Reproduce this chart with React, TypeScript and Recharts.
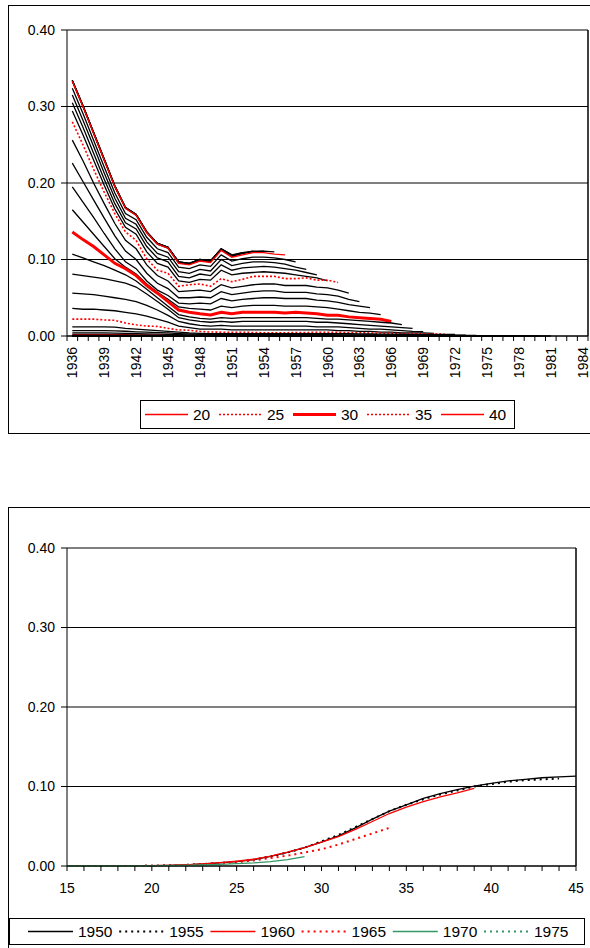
import { LineChart, Line, XAxis, YAxis, CartesianGrid, ReferenceLine } from "recharts"

const FONT = "'Liberation Sans', Arial, sans-serif"

// ---- top chart: one line per age, x = year ----
const years = [
  1936, 1937, 1938, 1939, 1940, 1941, 1942, 1943, 1944, 1945,
  1946, 1947, 1948, 1949, 1950, 1951, 1952, 1953, 1954, 1955,
  1956, 1957, 1958, 1959, 1960, 1961, 1962, 1963, 1964, 1965,
  1966, 1967, 1968, 1969, 1970, 1971, 1972, 1973, 1974, 1975,
  1976, 1977, 1978, 1979, 1980, 1981, 1982, 1983, 1984,
]

// values start at 1936, each series stops at its last observed year
const a45 = [.334, .301, .266, .231, .196, .168, .159, .136, .121, .116, .097, .095, .100, .098, .114, .106]
const a44 = [.334, .301, .266, .231, .196, .168, .159, .136, .121, .116, .097, .095, .100, .098, .114, .106, .109]
const a43 = [.334, .301, .266, .231, .196, .168, .159, .136, .121, .116, .097, .095, .100, .098, .114, .105, .109, .111]
const a42 = [.334, .301, .266, .231, .196, .168, .159, .136, .121, .116, .096, .094, .099, .097, .113, .105, .108, .111, .111]
const a41 = [.333, .300, .265, .230, .195, .167, .158, .135, .120, .115, .096, .094, .099, .097, .113, .104, .108, .110, .111, .110]
const a40 = [.333, .300, .265, .230, .195, .167, .158, .135, .120, .115, .095, .093, .098, .096, .112, .103, .106, .109, .109, .107, .106]
const a39 = [.324, .291, .256, .221, .187, .160, .152, .129, .114, .109, .090, .088, .093, .091, .106, .098, .101, .103, .103, .102, .100, .097]
const a38 = [.315, .282, .248, .213, .180, .154, .146, .123, .108, .103, .084, .082, .087, .085, .100, .092, .095, .097, .097, .096, .094, .090, .087]
const a37 = [.305, .273, .239, .205, .173, .148, .140, .117, .102, .097, .078, .076, .081, .079, .093, .086, .089, .090, .091, .090, .088, .086, .083, .080]
const a36 = [.294, .263, .230, .197, .166, .142, .133, .110, .095, .090, .072, .070, .074, .073, .086, .080, .082, .083, .084, .083, .082, .080, .078, .076, .072]
const a35 = [.280, .250, .218, .188, .160, .136, .125, .101, .086, .082, .065, .067, .068, .065, .075, .071, .074, .078, .078, .078, .075, .075, .076, .073, .073, .070]
const a34 = [.256, .229, .200, .173, .147, .125, .114, .093, .079, .072, .058, .059, .060, .058, .067, .063, .065, .067, .068, .068, .066, .066, .066, .064, .063, .060, .056]
const a33 = [.226, .202, .178, .154, .131, .111, .100, .082, .069, .062, .050, .050, .051, .050, .058, .054, .056, .058, .059, .059, .057, .057, .057, .055, .054, .052, .048, .045]
const a32 = [.195, .175, .155, .134, .114, .097, .088, .072, .060, .053, .043, .042, .043, .042, .049, .046, .048, .049, .050, .050, .049, .049, .049, .047, .046, .044, .041, .039, .037]
const a31 = [.165, .149, .133, .117, .101, .090, .081, .068, .057, .048, .038, .036, .035, .034, .039, .037, .039, .040, .040, .040, .039, .039, .039, .038, .037, .035, .033, .031, .030, .028]
const a30 = [.136, .126, .117, .106, .095, .088, .079, .066, .056, .045, .034, .031, .029, .0275, .031, .029, .031, .031, .031, .031, .030, .031, .030, .029, .027, .027, .025, .024, .023, .022, .019]
const a29 = [.107, .102, .097, .092, .086, .080, .072, .061, .050, .039, .028, .025, .023, .022, .024, .023, .024, .024, .024, .024, .024, .024, .024, .023, .022, .022, .021, .020, .019, .018, .017, .015]
const a28 = [.081, .079, .077, .075, .072, .069, .064, .055, .045, .035, .024, .021, .019, .018, .019, .018, .019, .019, .019, .019, .019, .019, .019, .018, .018, .017, .016, .015, .014, .013, .012, .011, .010]
const a27 = [.056, .055, .054, .052, .050, .048, .045, .040, .034, .027, .019, .016, .014, .013, .014, .013, .013, .013, .013, .013, .013, .013, .013, .012, .012, .012, .011, .010, .009, .009, .008, .007, .006, .0056]
const a26 = [.036, .035, .035, .034, .033, .031, .029, .026, .022, .018, .013, .011, .009, .009, .009, .008, .008, .008, .008, .008, .008, .008, .008, .008, .008, .007, .007, .006, .006, .005, .005, .004, .004, .004, .0035]
const a25 = [.022, .022, .022, .021, .0205, .017, .0146, .013, .0125, .010, .008, .0075, .006, .0052, .005, .005, .005, .0045, .0043, .0043, .0043, .0045, .0045, .005, .005, .0048, .0045, .0042, .004, .0038, .0035, .0032, .003, .0029, .0027, .0026]
const a24 = [.012, .012, .012, .012, .0115, .010, .009, .008, .007, .006, .005, .004, .0035, .003, .003, .003, .003, .003, .003, .003, .003, .003, .003, .003, .003, .003, .003, .0028, .0026, .0025, .0024, .0023, .0022, .0021, .002, .002, .002]
const a23 = [.007, .007, .007, .007, .0068, .0062, .0055, .005, .0045, .004, .0032, .0027, .0023, .002, .002, .0019, .0018, .0018, .0017, .0017, .0017, .0017, .0017, .0017, .0017, .0016, .0016, .0016, .0015, .0015, .0015, .0014, .0014, .0013, .0013, .0013, .0012, .0012]
const a22 = [.004, .004, .004, .004, .0038, .0035, .0031, .0028, .0025, .0022, .0018, .0015, .0013, .0012, .0012, .0011, .0011, .0011, .0011, .001, .001, .001, .001, .001, .001, .001, .001, .001, .0009, .0009, .0009, .0009, .0009, .0008, .0008, .0008, .0008, .0008, .0008]
const a21 = [.002, .002, .002, .002, .0019, .0018, .0016, .0014, .0012, .0011, .0009, .0008, .0007, .0006, .0006, .0006, .0006, .0006, .0006, .0006, .0006, .0006, .0006, .0006, .0005, .0005, .0005, .0005, .0005, .0005, .0005, .0005, .0005, .0005, .0004, .0004, .0004, .0004, .0004, .0004]
const a20 = [.001, .001, .001, .001, .001, .0009, .0008, .0007, .0006, .0005, .0004, .0004, .0003, .0003, .0003, .0003, .0003, .0003, .0003, .0003, .0003, .0003, .0003, .0003, .0003, .0003, .0003, .0003, .0002, .0002, .0002, .0002, .0002, .0002, .0002, .0002, .0002, .0002, .0002, .0002, .0002]
const a19 = [.0005, .0005, .0005, .0005, .0005, .0004, .0004, .0004, .0004, .0004, .0003, .0003, .0003, .0003, .0003, .0002, .0002, .0002, .0002, .0002, .0002, .0002, .0002, .0002, .0002, .0001, .0001, .0001, .0001, .0001, .0001, .0001, .0001, .0001, .0001, .0001, .0001, .0001, .0001, .0001, .0001, .0001]
const a18 = [.0003, .0003, .0003, .0003, .0003, .0003, .0002, .0002, .0002, .0002, .0002, .0002, .0002, .0002, .0001, .0001, .0001, .0001, .0001, .0001, .0001, .0001, .0001, .0001, .0001, .0001, .0001, .0001, .0001, .0001, .0001, .0001, .0001, .0001, .0001, .0001, .0001, .0001, .0001, .0001, .0001, .0001, .0001]
const a17 = [.0001, .0001, .0001, .0001, .0001, .0001, .0001, .0001, .0001, .0001, .0001, .0001, .0001, .0001, 0, 0, 0, 0, 0, 0, 0, 0, 0, 0, 0, 0, 0, 0, 0, 0, 0, 0, 0, 0, 0, 0, 0, 0, 0, 0, 0, 0, 0, 0]
const a16 = [0, 0, 0, 0, 0, 0, 0, 0, 0, 0, 0, 0, 0, 0, 0, 0, 0, 0, 0, 0, 0, 0, 0, 0, 0, 0, 0, 0, 0, 0, 0, 0, 0, 0, 0, 0, 0, 0, 0, 0, 0, 0, 0, 0, 0]
const a15 = [0, 0, 0, 0, 0, 0, 0, 0, 0, 0, 0, 0, 0, 0, 0, 0, 0, 0, 0, 0, 0, 0, 0, 0, 0, 0, 0, 0, 0, 0, 0, 0, 0, 0, 0, 0, 0, 0, 0, 0, 0, 0, 0, 0, 0, 0]

// drawing order as in the workbook: oldest age first
const ageSeries: [number, number[]][] = [
  [45, a45], [44, a44], [43, a43], [42, a42], [41, a41], [40, a40], [39, a39], [38, a38],
  [37, a37], [36, a36], [35, a35], [34, a34], [33, a33], [32, a32], [31, a31], [30, a30],
  [29, a29], [28, a28], [27, a27], [26, a26], [25, a25], [24, a24], [23, a23], [22, a22],
  [21, a21], [20, a20], [19, a19], [18, a18], [17, a17], [16, a16], [15, a15],
]
const legendAges = [20, 25, 30, 35, 40]

// ---- bottom chart: one line per cohort, x = age ----
const ages = [15, 16, 17, 18, 19, 20, 21, 22, 23, 24, 25, 26, 27, 28, 29, 30, 31, 32, 33, 34, 35, 36, 37, 38, 39, 40, 41, 42, 43, 44, 45]
const c1950 = [0, 0, 0, 0, 0, .0003, .0007, .0015, .0025, .004, .0055, .008, .012, .017, .023, .030, .038, .048, .059, .069, .077, .085, .091, .096, .1005, .104, .107, .109, .111, .112, .113]
const c1955 = [0, 0, 0, 0, 0, .0003, .0007, .0014, .0024, .0038, .0055, .008, .012, .017, .023, .031, .039, .049, .059, .069, .077, .084, .090, .095, .100, .103, .106, .108, .109, .110]
const c1960 = [0, 0, 0, 0, 0, .0003, .0007, .0015, .0026, .0042, .006, .0085, .0125, .0175, .023, .030, .037, .046, .056, .066, .074, .081, .087, .092, .0977]
const c1965 = [0, 0, 0, 0, 0, .0003, .0006, .001, .002, .003, .005, .007, .010, .013, .017, .021, .027, .034, .041, .048]
const c1970 = [0, 0, 0, 0, 0, .0002, .0004, .0008, .0013, .002, .003, .004, .0055, .008, .0117]
const c1975 = [0, 0, 0, 0, 0, .0001, .0002, .0004, .0006, .0009]

const cohorts: [string, number[]][] = [
  ["1950", c1950], ["1955", c1955], ["1960", c1960], ["1965", c1965], ["1970", c1970], ["1975", c1975],
]

const yTicks = [0, 0.1, 0.2, 0.3, 0.4]

const topData = years.map((year, i) => {
  const row: Record<string, number | undefined> = { year }
  ageSeries.forEach(([age, vals]) => { row[`a${age}`] = vals[i] })
  return row
})

const bottomData = ages.map((age, i) => {
  const row: Record<string, number | undefined> = { age }
  cohorts.forEach(([name, vals]) => { row[`c${name}`] = vals[i] })
  return row
})

type LineStyle = { stroke: string; width: number; dash?: string }

const ageStyle = (age: number): LineStyle => {
  if (age === 30) return { stroke: "#ff0000", width: 3 }
  if (age === 20 || age === 40) return { stroke: "#ff0000", width: 1.4 }
  if (age === 25 || age === 35) return { stroke: "#ff0000", width: 1.6, dash: "2 2" }
  return { stroke: "#000", width: 1.3 }
}

const cohortStyle: Record<string, LineStyle> = {
  "1950": { stroke: "#000", width: 1.3 },
  "1955": { stroke: "#000", width: 2, dash: "2 4" },
  "1960": { stroke: "#ff0000", width: 1.3 },
  "1965": { stroke: "#ff0000", width: 2, dash: "2 4" },
  "1970": { stroke: "#339966", width: 1.3 },
  "1975": { stroke: "#339966", width: 2, dash: "2 4" },
}

// layout
const TOP_LEFT = 67
const TOP_RIGHT = 588
const TOP_BOTTOM = 336
const HALF_STEP = (TOP_RIGHT - TOP_LEFT) / years.length / 2
const BOT_BOTTOM = 366

const YearTick = (props: any) => {
  const { x, payload, index } = props
  const yr = payload.value as number
  return (
    <g>
      <line x1={x - HALF_STEP} x2={x - HALF_STEP} y1={TOP_BOTTOM} y2={TOP_BOTTOM + 5} stroke="#000" />
      {index === years.length - 1 && (
        <line x1={x + HALF_STEP} x2={x + HALF_STEP} y1={TOP_BOTTOM} y2={TOP_BOTTOM + 5} stroke="#000" />
      )}
      {(yr - 1936) % 3 === 0 && (
        <text
          transform={`translate(${x + 5},${TOP_BOTTOM + 11}) rotate(-90)`}
          textAnchor="end"
          fontSize={14}
          fontFamily={FONT}
          fill="#000"
        >
          {yr}
        </text>
      )}
    </g>
  )
}

const AgeTick = (props: any) => {
  const { x, payload } = props
  const a = payload.value as number
  return (
    <g>
      <line x1={x} x2={x} y1={BOT_BOTTOM} y2={BOT_BOTTOM + 5} stroke="#000" />
      {a % 5 === 0 && (
        <text x={x} y={BOT_BOTTOM + 27} textAnchor="middle" fontSize={14} fontFamily={FONT} fill="#000">
          {a}
        </text>
      )}
    </g>
  )
}

const yAxisProps = {
  type: "number" as const,
  domain: [0, 0.4],
  ticks: yTicks,
  tickFormatter: (v: number) => v.toFixed(2),
  width: 50,
  tickSize: 6,
  tickMargin: 6,
  stroke: "#000",
  tick: { fill: "#000", fontSize: 14, fontFamily: FONT },
  interval: 0 as const,
}

function LegendBox({ items, left, top, width, height, first, pitch, sample }: {
  items: { label: string; style: LineStyle }[]
  left: number; top: number; width: number; height: number
  first: number; pitch: number; sample: number
}) {
  const cy = height / 2 + 0.5
  return (
    <svg style={{ position: "absolute", left, top }} width={width + 1} height={height + 1}>
      <rect x={0.5} y={0.5} width={width} height={height} fill="#fff" stroke="#000" />
      {items.map((it, i) => {
        const x0 = first + i * pitch
        return (
          <g key={it.label}>
            <line x1={x0} x2={x0 + sample} y1={cy} y2={cy} stroke={it.style.stroke}
              strokeWidth={it.style.width} strokeDasharray={it.style.dash} />
            <text x={x0 + sample + 5} y={cy + 5.5} fontSize={15.5} fontFamily={FONT} fill="#000">{it.label}</text>
          </g>
        )
      })}
    </svg>
  )
}

export default function App() {
  return (
    <div style={{ position: "absolute", left: 0, top: 0, width: 590, height: 948, overflow: "hidden", background: "#fff" }}>
      {/* chart frames */}
      <div style={{ position: "absolute", left: 8, top: 5, width: 620, height: 427, border: "1px solid #000" }} />
      <div style={{ position: "absolute", left: 8, top: 507, width: 620, height: 500, border: "1px solid #000" }} />

      <div style={{ position: "absolute", left: 0, top: 0 }}>
        <LineChart width={590} height={440} data={topData} margin={{ top: 30, right: 2, left: 17, bottom: 44 }}>
          <CartesianGrid vertical={false} stroke="#000" />
          <XAxis dataKey="year" type="number" domain={[1935.5, 1984.5]} ticks={years} interval={0}
            tickLine={false} stroke="#000" height={60} tick={(p: any) => <YearTick {...p} />} />
          <YAxis {...yAxisProps} />
          <ReferenceLine x={1984.5} stroke="#000" strokeWidth={1.5} />
          {ageSeries.map(([age]) => {
            const s = ageStyle(age)
            return (
              <Line key={age} dataKey={`a${age}`} stroke={s.stroke} strokeWidth={s.width}
                strokeDasharray={s.dash} dot={false} activeDot={false} connectNulls={false}
                isAnimationActive={false} />
            )
          })}
        </LineChart>
      </div>
      <LegendBox
        items={legendAges.map((a) => ({ label: String(a), style: ageStyle(a) }))}
        left={140} top={400} width={374} height={28} first={5} pitch={74} sample={43}
      />

      <div style={{ position: "absolute", left: 0, top: 500 }}>
        <LineChart width={590} height={440} data={bottomData} margin={{ top: 48, right: 14, left: 17, bottom: 34 }}>
          <CartesianGrid vertical={false} stroke="#000" />
          <XAxis dataKey="age" type="number" domain={[15, 45]} ticks={ages} interval={0}
            tickLine={false} stroke="#000" height={40} tick={(p: any) => <AgeTick {...p} />} />
          <YAxis {...yAxisProps} />
          <ReferenceLine x={45} stroke="#000" strokeWidth={1.5} />
          {cohorts.map(([name]) => {
            const s = cohortStyle[name]
            return (
              <Line key={name} dataKey={`c${name}`} stroke={s.stroke} strokeWidth={s.width}
                strokeDasharray={s.dash} dot={false} activeDot={false} connectNulls={false}
                isAnimationActive={false} />
            )
          })}
        </LineChart>
      </div>
      <LegendBox
        items={cohorts.map(([name]) => ({ label: name, style: cohortStyle[name] }))}
        left={9} top={918} width={575} height={26} first={19} pitch={91.2} sample={45}
      />
    </div>
  )
}
